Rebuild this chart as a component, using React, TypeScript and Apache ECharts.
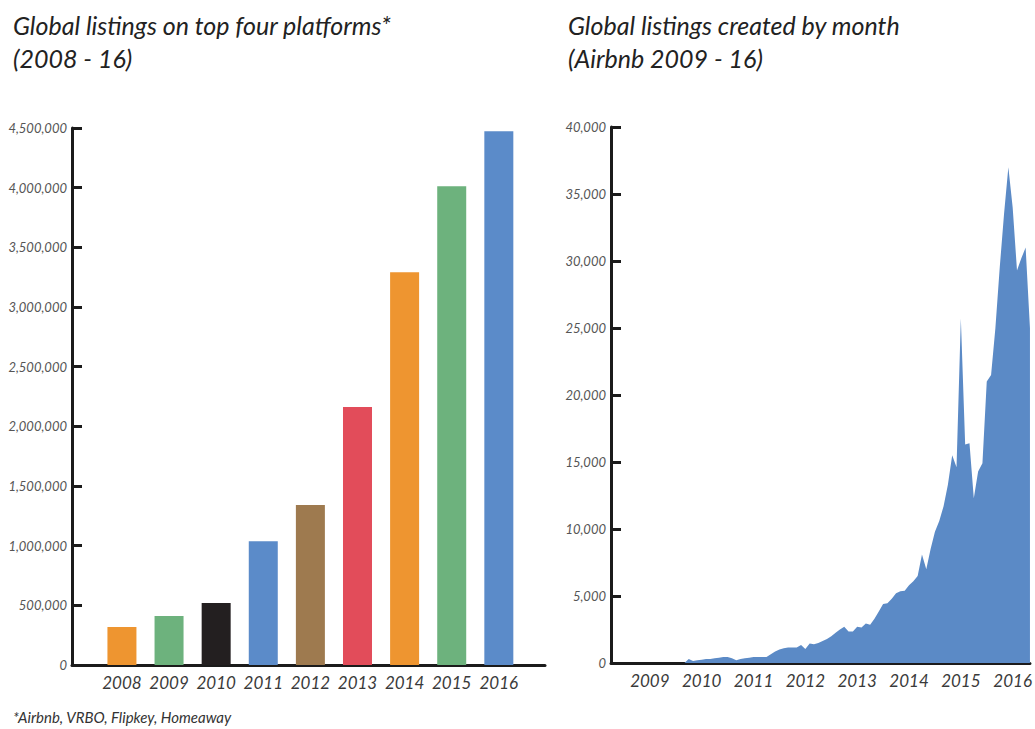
import React, { useEffect, useRef } from "react";
import * as echarts from "echarts";

// ---- Left chart data ----
const years = [2008, 2009, 2010, 2011, 2012, 2013, 2014, 2015, 2016];
const listingsTopFour = [318000, 410000, 519000, 1038000, 1340000, 2161000, 3291000, 4011000, 4472000];
const barColors = ["#EE9530", "#6DB27D", "#231F20", "#5B8BC9", "#9E7A4F", "#E24C5A", "#EE9530", "#6DB27D", "#5B8BC9"];

// ---- Right chart data (Airbnb listings created by month, Oct 2008 - Nov 2016) ----
const monthStart = { year: 2008, month: 10 };
const monthlyListings = [
  0, 0, 0, 0, 0, 0, 0, 0, 0, 0, 0, 0, 0, 0, 0, 0, 0, 0,
  300, 150, 200, 250, 300, 300, 350, 400, 450, 450,
  350, 200, 300, 350, 400, 450, 450, 450, 450, 650,
  850, 1000, 1100, 1150, 1150, 1150, 1350, 1050, 1450, 1400,
  1500, 1650, 1800, 2000, 2250, 2500, 2700, 2350, 2350, 2700,
  2650, 2950, 2850, 3300, 3850, 4400, 4450, 4800, 5200, 5350,
  5400, 5800, 6100, 6500, 8100, 7000, 8500, 9800, 10600, 11700,
  13300, 15500, 14600, 25700, 16300, 16400, 12300, 14300, 14900, 21000,
  21500, 25000, 29500, 33500, 37000, 34000, 29300, 30200, 31000, 25000,
];
const monthCategories: string[] = monthlyListings.map((_, i) => {
  const m0 = monthStart.month - 1 + i;
  const y = monthStart.year + Math.floor(m0 / 12);
  const m = (m0 % 12) + 1;
  return `${y}-${m < 10 ? "0" + m : m}`;
});

const FONT = "Lato, 'Open Sans', sans-serif";
const AXIS_COLOR = "#1b1b1b";

export default function App() {
  const ref = useRef<HTMLDivElement>(null);

  useEffect(() => {
    document.body.style.margin = "0";
    if (!ref.current) return;
    const chart = echarts.init(ref.current, undefined, { renderer: "svg" });
    const titleStyle = {
      fontFamily: FONT,
      fontStyle: "italic" as const,
      fontWeight: "normal" as const,
      fontSize: 25,
      lineHeight: 33,
      color: "#222",
    };
    const yLabel = {
      fontFamily: FONT,
      fontStyle: "italic" as const,
      fontSize: 13,
      color: "#555",
      margin: 5,
      formatter: (v: number) => v.toLocaleString("en-US"),
    };
    const xLabel = {
      fontFamily: FONT,
      fontStyle: "italic" as const,
      fontSize: 17,
      color: "#3a3a3a",
      margin: 9,
    };
    chart.setOption({
      animation: false,
      backgroundColor: "#ffffff",
      title: [
        { text: "Global listings on top four platforms*\n(2008 - 16)", left: 8, top: 3, textStyle: titleStyle },
        { text: "Global listings created by month\n(Airbnb 2009 - 16)", left: 563, top: 3, textStyle: titleStyle },
        {
          text: "*Airbnb, VRBO, Flipkey, Homeaway",
          left: 8,
          top: 703,
          textStyle: { fontFamily: FONT, fontStyle: "italic", fontWeight: "normal", fontSize: 15, lineHeight: 18, color: "#333" },
        },
      ],
      grid: [
        { left: 72, top: 128, width: 473, height: 537 },
        { left: 611, top: 127, width: 420, height: 536 },
      ],
      xAxis: [
        {
          type: "value",
          gridIndex: 0,
          min: 2006.94,
          max: 2016.98,
          splitLine: { show: false },
          axisTick: { show: false },
          axisLine: { show: true, lineStyle: { color: AXIS_COLOR, width: 3 } },
          axisLabel: { ...xLabel, customValues: years, formatter: (v: number) => String(v) },
        },
        {
          type: "category",
          gridIndex: 1,
          data: monthCategories,
          boundaryGap: false,
          splitLine: { show: false },
          axisTick: { show: false },
          axisLine: { show: true, lineStyle: { color: AXIS_COLOR, width: 3 } },
          axisLabel: {
            ...xLabel,
            interval: (_i: number, v: string) => v.endsWith("-07"),
            formatter: (v: string) => v.slice(0, 4),
          },
        },
      ],
      yAxis: [
        {
          type: "value",
          gridIndex: 0,
          min: 0,
          max: 4500000,
          interval: 500000,
          splitLine: { show: false },
          axisLine: { show: true, lineStyle: { color: AXIS_COLOR, width: 3 } },
          axisTick: { show: true, inside: true, length: 10, lineStyle: { color: AXIS_COLOR, width: 3 } },
          axisLabel: yLabel,
        },
        {
          type: "value",
          gridIndex: 1,
          min: 0,
          max: 40000,
          interval: 5000,
          splitLine: { show: false },
          axisLine: { show: true, lineStyle: { color: AXIS_COLOR, width: 3 } },
          axisTick: { show: true, inside: true, length: 10, lineStyle: { color: AXIS_COLOR, width: 3 } },
          axisLabel: yLabel,
        },
      ],
      series: [
        {
          type: "bar",
          xAxisIndex: 0,
          yAxisIndex: 0,
          barWidth: 29,
          data: years.map((y, i) => ({ value: [y, listingsTopFour[i]], itemStyle: { color: barColors[i] } })),
        },
        {
          type: "line",
          xAxisIndex: 1,
          yAxisIndex: 1,
          data: monthlyListings,
          symbol: "none",
          lineStyle: { width: 0, color: "#5B8AC6" },
          areaStyle: { color: "#5B8AC6", opacity: 1 },
          z: 1,
        },
      ],
    });
    return () => chart.dispose();
  }, []);

  return <div ref={ref} style={{ position: "absolute", left: 0, top: 0, width: 1035, height: 729 }} />;
}
